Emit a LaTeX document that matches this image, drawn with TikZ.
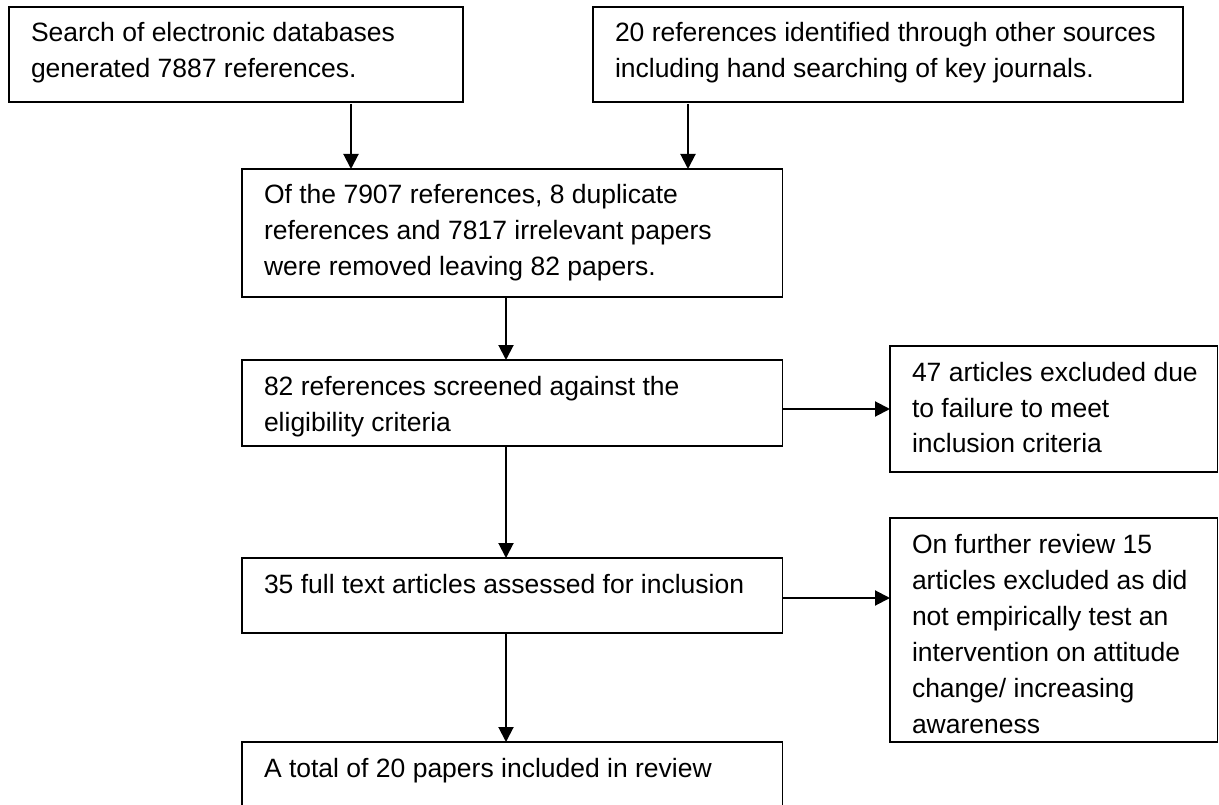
\documentclass[tikz,border=0pt]{standalone}
\usepackage{fontspec}
\setmainfont{Liberation Sans}
\usetikzlibrary{arrows.meta}
\newcommand{\boxlines}[1]{\vtop{#1}}
\begin{document}
\begin{tikzpicture}[x=1pt,y=-1pt,
  box/.style={draw=black, line width=1.3pt, rectangle, inner sep=0pt, outer sep=0pt, anchor=north west},
  txt/.style={inner sep=0pt, outer sep=0pt, anchor=base west, font=\fontsize{26.5}{36}\selectfont, xshift=22pt, yshift=-35pt},
  arr/.style={line width=2pt, -{Triangle[width=15pt,length=15pt]}}]
\useasboundingbox (0,0) rectangle (1219,805);
\clip (0,0) rectangle (1219,805);
% boxes
\node[box, minimum width=454pt, minimum height=95pt] (b1) at (9,7) {};
\node[box, minimum width=590pt, minimum height=95pt] (b2) at (593,7) {};
\node[box, minimum width=540.5pt, minimum height=128pt] (b3) at (242,169) {};
\node[box, minimum width=540.5pt, minimum height=86pt] (b4) at (242,360) {};
\node[box, minimum width=327.5pt, minimum height=126pt] (b5) at (890,346) {};
\node[box, minimum width=540.5pt, minimum height=75pt] (b6) at (242,558) {};
\node[box, minimum width=327.5pt, minimum height=224pt] (b7) at (890,518) {};
\node[box, minimum width=540.5pt, minimum height=100pt] (b8) at (242,742) {};
% texts
\node[txt] (t1) at (b1.north west) {\boxlines{\hbox{Search of electronic databases}\hbox{generated 7887 references.}}};
\node[txt] (t2) at (b2.north west) {\boxlines{\hbox{20 references identified through other sources}\hbox{including hand searching of key journals.}}};
\node[txt] (t3) at (b3.north west) {\boxlines{\hbox{Of the 7907 references, 8 duplicate}\hbox{references and 7817 irrelevant papers}\hbox{were removed leaving 82 papers.}}};
\node[txt] (t4) at (b4.north west) {\boxlines{\hbox{82 references screened against the}\hbox{eligibility criteria}}};
\node[txt] (t5) at (b5.north west) {\boxlines{\hbox{47 articles excluded due}\hbox{to failure to meet}\hbox{inclusion criteria}}};
\node[txt] (t6) at (b6.north west) {\boxlines{\hbox{35 full text articles assessed for inclusion}}};
\node[txt] (t7) at (b7.north west) {\boxlines{\hbox{On further review 15}\hbox{articles excluded as did}\hbox{not empirically test an}\hbox{intervention on attitude}\hbox{change/ increasing}\hbox{awareness}}};
\node[txt] (t8) at (b8.north west) {\boxlines{\hbox{A total of 20 papers included in review}}};
% connector guides
\coordinate (c1) at (351,0);
\coordinate (c2) at (688,0);
\coordinate (c3) at (506,0);
\coordinate (h1) at (0,409);
\coordinate (h2) at (0,598);
% connectors
\draw[arr] ([yshift=-2pt]b1.south -| c1) -- (b3.north -| c1);
\draw[arr] ([yshift=-2pt]b2.south -| c2) -- (b3.north -| c2);
\draw[arr] (b3.south -| c3) -- (b4.north -| c3);
\draw[arr] (b4.south -| c3) -- (b6.north -| c3);
\draw[arr] (b6.south -| c3) -- (b8.north -| c3);
\draw[arr] (b4.east |- h1) -- (b5.west |- h1);
\draw[arr] (b6.east |- h2) -- (b7.west |- h2);
\end{tikzpicture}
\end{document}
